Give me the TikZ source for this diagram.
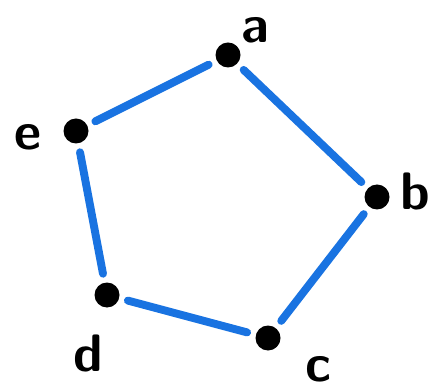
\documentclass[tikz,border=0pt]{standalone}
\usepackage{tikz}
\usetikzlibrary{arrows.meta, positioning, calc}
\usepackage[dvipsnames, svgnames, table]{xcolor}
\definecolor{penblue}{RGB}{25,115,225}

\begin{document}
\begin{tikzpicture}[scale=1,
    vertex/.style={circle, fill=black, minimum size=0.5cm, inner sep=0pt},
    edge/.style={penblue, line width=4.5pt, line cap=round, shorten >=5pt, shorten <=5pt},
    lbl/.style={font=\sffamily\bfseries\fontsize{30}{30}\selectfont, inner sep=0pt,
        text height=0.5cm, text depth=0pt}]
    \useasboundingbox (0,0) rectangle (8.76,7.8);
    % Vertices
    \node[vertex] (a) at (4.56, 6.70) {};
    \node[vertex] (b) at (7.54, 3.86) {};
    \node[vertex] (c) at (5.36, 1.04) {};
    \node[vertex] (d) at (2.14, 1.90) {};
    \node[vertex] (e) at (1.52, 5.18) {};

    % Labels
    \node[lbl] (la) at (5.10, 7.20) {a};
    \node[lbl] (lb) at (8.30, 3.85) {b};
    \node[lbl] (lc) at (6.36, 0.42) {c};
    \node[lbl] (ld) at (1.76, 0.63) {d};
    \node[lbl] (le) at (0.56, 5.05) {e};

    % Edges
    \draw[edge] (a) -- (b);
    \draw[edge] (b) -- (c);
    \draw[edge] (c) -- (d);
    \draw[edge] (d) -- (e);
    \draw[edge] (e) -- (a);
\end{tikzpicture}
\end{document}
